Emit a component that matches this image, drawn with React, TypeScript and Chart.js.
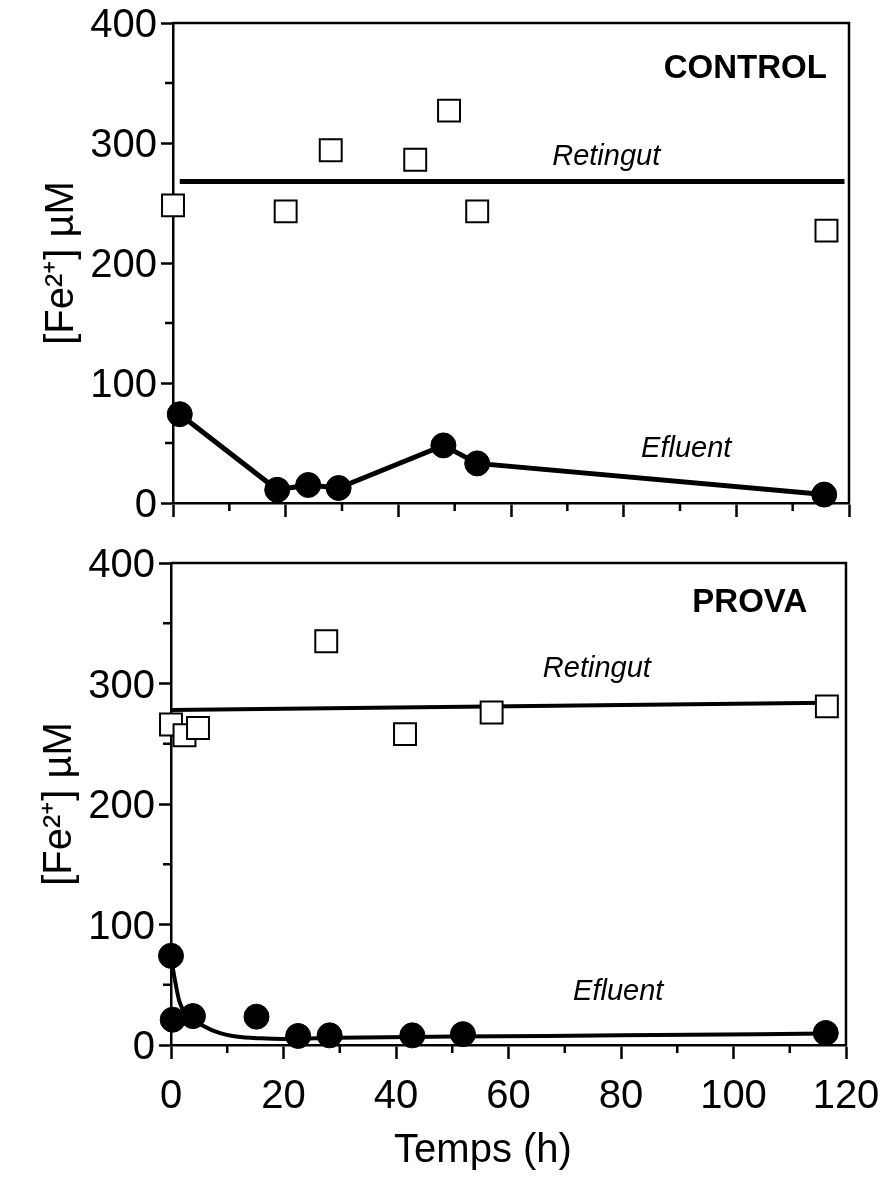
import React, { useEffect, useRef } from 'react';
import { Chart, registerables } from 'chart.js';

Chart.register(...registerables);

const FONT = '"Liberation Sans", Arial, Helvetica, sans-serif';

// Axis ticks
const timeTicks = [0, 20, 40, 60, 80, 100, 120];
const timeMinorTicks = [10, 30, 50, 70, 90, 110];
const concTicks = [0, 100, 200, 300, 400];
const concMinorTicks = [50, 150, 250, 350];

// CONTROL panel
const controlRetingutTime = [0, 20, 28, 43, 49, 54, 116];
const controlRetingutConc = [248, 243, 294, 286, 327, 243, 227];
const controlRetingutMeanTime = [1.2, 119.2];
const controlRetingutMeanConc = [268, 268];
const controlEfluentTime = [1.2, 18.5, 24, 29.4, 48, 54, 115.6];
const controlEfluentConc = [74, 11, 15, 12.5, 48, 33, 7];

// PROVA panel
const provaRetingutTime = [0, 2.4, 4.8, 27.6, 41.6, 57, 116.6];
const provaRetingutConc = [266, 257, 263, 335, 258, 276, 281];
const provaRetingutFitTime = [0, 116.6];
const provaRetingutFitConc = [278, 284];
const provaEfluentTime = [0, 0.3, 3.9, 15.2, 22.6, 28.2, 42.9, 51.9, 116.4];
const provaEfluentConc = [74, 21, 24, 23.5, 7.5, 8, 8, 9, 10];
const provaEfluentFitTime = [0, 1.5, 2.7, 5.7, 8.6, 11.6, 16, 20, 30, 50, 80, 116.4];
const provaEfluentFitConc = [72, 36, 26, 16, 10, 7, 5.5, 5, 6, 7, 8, 9.5];

// Text labels inside the panels (placed in data units)
const controlNotes = [
  { text: 'CONTROL', t: 101.6, c: 362, weight: 'bold', style: 'normal', size: 33 },
  { text: 'Retingut', t: 76.9, c: 288.6, weight: 'normal', style: 'italic', size: 29 },
  { text: 'Efluent', t: 91.1, c: 45, weight: 'normal', style: 'italic', size: 29 },
];
const provaNotes = [
  { text: 'PROVA', t: 102.9, c: 367, weight: 'bold', style: 'normal', size: 33 },
  { text: 'Retingut', t: 75.7, c: 312.5, weight: 'normal', style: 'italic', size: 29 },
  { text: 'Efluent', t: 79.5, c: 44, weight: 'normal', style: 'italic', size: 29 },
];

const yTitle = '[Fe²⁺] µM';
const xTitle = 'Temps (h)';

const pts = (xs: number[], ys: number[]) => xs.map((x, i) => ({ x, y: ys[i] }));

const squareStyle = {
  showLine: false,
  pointStyle: 'rect',
  pointRadius: 15.5,
  pointBackgroundColor: '#fff',
  pointBorderColor: '#000',
  pointBorderWidth: 2,
  clip: false,
  order: 1,
};
const circleStyle = {
  pointStyle: 'circle',
  pointRadius: 12.5,
  pointBackgroundColor: '#000',
  pointBorderColor: '#000',
  pointBorderWidth: 1,
  clip: false,
  order: 1,
};

function buildConfig(p: any) {
  const frame = {
    id: 'frame',
    beforeDatasetsDraw(chart: any) {
      const { ctx, chartArea: a } = chart;
      ctx.save();
      ctx.strokeStyle = '#000';
      ctx.lineWidth = 2.5;
      ctx.beginPath();
      ctx.moveTo(a.left, a.top);
      ctx.lineTo(a.right, a.top);
      ctx.lineTo(a.right, a.bottom);
      ctx.stroke();
      // minor ticks
      const sx = chart.scales.x;
      const sy = chart.scales.y;
      ctx.beginPath();
      for (const t of timeMinorTicks) {
        const px = sx.getPixelForValue(t);
        ctx.moveTo(px, a.bottom);
        ctx.lineTo(px, a.bottom + 8);
      }
      for (const v of concMinorTicks) {
        const py = sy.getPixelForValue(v);
        ctx.moveTo(a.left, py);
        ctx.lineTo(a.left - 8, py);
      }
      ctx.stroke();
      ctx.restore();
    },
    afterDatasetsDraw(chart: any) {
      const { ctx } = chart;
      const sx = chart.scales.x;
      const sy = chart.scales.y;
      ctx.save();
      ctx.fillStyle = '#000';
      ctx.textAlign = 'center';
      ctx.textBaseline = 'middle';
      for (const n of p.notes) {
        ctx.font = `${n.style} ${n.weight} ${n.size}px ${FONT}`;
        ctx.fillText(n.text, sx.getPixelForValue(n.t), sy.getPixelForValue(n.c));
      }
      if (p.xTitle) {
        ctx.font = `normal 40px ${FONT}`;
        ctx.fillText(p.xTitle, p.xTitleX, p.xTitleY);
      }
      ctx.restore();
    },
  };

  return {
    type: 'scatter',
    data: { datasets: p.datasets },
    plugins: [frame],
    options: {
      responsive: false,
      animation: false,
      events: [],
      layout: { padding: { top: 23, right: p.padRight, bottom: 0, left: 0 }, autoPadding: false },
      plugins: { legend: { display: false }, tooltip: { enabled: false } },
      scales: {
        x: {
          type: 'linear',
          min: 0,
          max: 120,
          afterBuildTicks: (s: any) => {
            s.ticks = timeTicks.map((v) => ({ value: v }));
          },
          afterFit: (s: any) => {
            s.height = p.xHeight;
            s.paddingLeft = 0;
            s.paddingRight = 0;
          },
          ticks: {
            autoSkip: false,
            maxRotation: 0,
            color: '#000',
            padding: 14,
            font: { family: FONT, size: 40 },
            callback: (v: any) => (p.showXLabels ? String(v) : ''),
          },
          grid: { drawOnChartArea: false, drawTicks: true, tickLength: 14, tickWidth: 2.5, tickColor: '#000' },
          border: { display: true, color: '#000', width: 2.5 },
        },
        y: {
          type: 'linear',
          min: 0,
          max: 400,
          afterBuildTicks: (s: any) => {
            s.ticks = concTicks.map((v) => ({ value: v }));
          },
          afterFit: (s: any) => {
            s.width = p.yWidth;
            s.paddingTop = 0;
            s.paddingBottom = 0;
          },
          ticks: {
            color: '#000',
            padding: 4,
            labelOffset: 3,
            font: { family: FONT, size: 40 },
            callback: (v: any) => String(v),
          },
          grid: { drawOnChartArea: false, drawTicks: true, tickLength: 12, tickWidth: 2.5, tickColor: '#000' },
          border: { display: true, color: '#000', width: 2.5 },
          title: {
            display: true,
            text: yTitle,
            color: '#000',
            font: { family: FONT, size: 40 },
            padding: { top: p.yTitlePad, bottom: 0 },
          },
        },
      },
    },
  };
}

const topPanel = {
  padRight: 39,
  xHeight: 37,
  yWidth: 173,
  yTitlePad: 38,
  showXLabels: false,
  notes: controlNotes,
  xTitle: null,
  datasets: [
    {
      label: 'Retingut (mitjana)',
      data: pts(controlRetingutMeanTime, controlRetingutMeanConc),
      showLine: true,
      borderColor: '#000',
      borderWidth: 5,
      pointRadius: 0,
      order: 3,
    },
    { label: 'Retingut', data: pts(controlRetingutTime, controlRetingutConc), ...squareStyle },
    {
      label: 'Efluent',
      data: pts(controlEfluentTime, controlEfluentConc),
      showLine: true,
      borderColor: '#000',
      borderWidth: 5,
      ...circleStyle,
      order: 2,
    },
  ],
};

const bottomPanel = {
  padRight: 42,
  xHeight: 136,
  yWidth: 171,
  yTitlePad: 36,
  showXLabels: true,
  notes: provaNotes,
  xTitle: xTitle,
  xTitleX: 483,
  xTitleY: 611,
  datasets: [
    {
      label: 'Retingut (ajust)',
      data: pts(provaRetingutFitTime, provaRetingutFitConc),
      showLine: true,
      borderColor: '#000',
      borderWidth: 4,
      pointRadius: 0,
      order: 3,
    },
    { label: 'Retingut', data: pts(provaRetingutTime, provaRetingutConc), ...squareStyle },
    {
      label: 'Efluent (ajust)',
      data: pts(provaEfluentFitTime, provaEfluentFitConc),
      showLine: true,
      borderColor: '#000',
      borderWidth: 4,
      pointRadius: 0,
      cubicInterpolationMode: 'monotone',
      clip: false,
      order: 3,
    },
    { label: 'Efluent', data: pts(provaEfluentTime, provaEfluentConc), showLine: false, ...circleStyle },
  ],
};

export default function App() {
  const topRef = useRef<HTMLCanvasElement>(null);
  const botRef = useRef<HTMLCanvasElement>(null);

  useEffect(() => {
    const c1 = new Chart(topRef.current as HTMLCanvasElement, buildConfig(topPanel) as any);
    const c2 = new Chart(botRef.current as HTMLCanvasElement, buildConfig(bottomPanel) as any);
    return () => {
      c1.destroy();
      c2.destroy();
    };
  }, []);

  return (
    <div style={{ position: 'absolute', left: 0, top: 0, width: 888, height: 1181, background: '#fff' }}>
      <canvas
        ref={topRef}
        width={888}
        height={540}
        style={{ position: 'absolute', left: 0, top: 0, width: 888, height: 540 }}
      />
      <canvas
        ref={botRef}
        width={888}
        height={641}
        style={{ position: 'absolute', left: 0, top: 540, width: 888, height: 641 }}
      />
    </div>
  );
}
